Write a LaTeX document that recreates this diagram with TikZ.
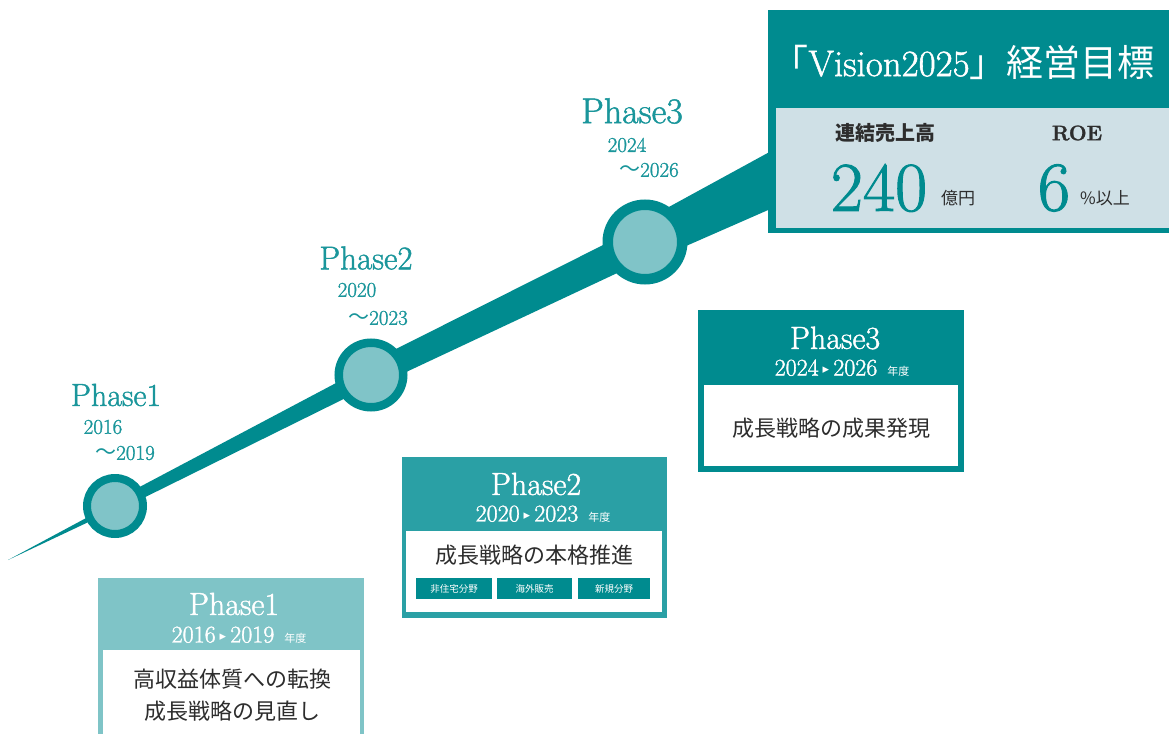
\documentclass[tikz,border=0pt]{standalone}
\usepackage{fontspec}
\setmainfont{Latin Modern Roman}[FakeBold=1.4]
\newfontfamily\jp{Noto Sans CJK JP}
\newfontfamily\djv{DejaVu Sans}
\newcommand\myfs[1]{\fontsize{#1}{#1}\selectfont}
\definecolor{tealD}{RGB}{0,139,143}
\definecolor{tealM}{RGB}{42,160,165}
\definecolor{tealL}{RGB}{127,196,199}
\definecolor{circF}{RGB}{128,196,200}
\definecolor{vbody}{RGB}{207,224,230}
\definecolor{labT}{RGB}{26,150,155}
\definecolor{txtD}{RGB}{45,45,45}
\begin{document}
\begin{tikzpicture}[x=1pt,y=-1pt,
  phl/.style={text=labT,inner sep=0,font=\myfs{#1}},
  yrl/.style={text=labT,inner sep=0,font=\myfs{21}},
  ring/.style={circle,draw=tealD,fill=circF,inner sep=0},
  hdr/.style={text=white,inner sep=0,font=\myfs{32}},
  yrh/.style={text=white,inner sep=0,font=\myfs{24}},
  body/.style={text=txtD,inner sep=0,font=\jp\myfs{22},align=center},
  tagbox/.style={fill=tealD,text=white,inner sep=0,minimum height=21pt,font=\jp\myfs{9.5}}]
\useasboundingbox (0,0) rectangle (1169,733);
\fill[white] (0,0) rectangle (1169,733);
% tapered band, one segment per phase
\fill[tealD] (8,560) -- (115,502.5) -- (115,509.5) -- cycle;
\fill[tealD] (115,500) -- (371,364.5) -- (371,385.5) -- (115,512) -- cycle;
\fill[tealD] (371,361.5) -- (645,224) -- (645,260) -- (371,388.5) -- cycle;
\fill[tealD] (645,220) -- (775,149) -- (775,207) -- (645,264) -- cycle;
% circles
\node[ring,line width=8pt,minimum size=56pt] (c1) at (115,506) {};
\node[ring,line width=8.5pt,minimum size=64.5pt] (c2) at (371,375) {};
\node[ring,line width=10.5pt,minimum size=74.5pt] (c3) at (645,242) {};
% phase labels on the line
\node[phl=32] (l1) at (116,395) {Phase1};
\node[yrl] (l1a) at (103,427) {2016};
\node[yrl] (l1b) at (125,453) {{\jp ～}2019};
\node[phl=33] (l2) at (366,258) {Phase2};
\node[yrl] (l2a) at (357,290) {2020};
\node[yrl] (l2b) at (378,318) {{\jp ～}2023};
\node[phl=36] (l3) at (632,111) {Phase3};
\node[yrl] (l3a) at (627,145) {2024};
\node[yrl] (l3b) at (649,170) {{\jp ～}2026};
% Vision box
\fill[tealD] (768,10) rectangle (1169,233);
\fill[vbody] (776,108) rectangle (1169,228);
\node[text=white,inner sep=0,font=\myfs{37}] (vt) at (963,62) {{\jp 「}Vision2025{\jp 」経営目標}};
\node[text=txtD,inner sep=0,font=\jp\bfseries\myfs{20}] (vs) at (885,133) {連結売上高};
\node[text=txtD,inner sep=0,font=\bfseries\myfs{21}] (vr) at (1077,133) {ROE};
\node[text=tealD,inner sep=0,font=\myfs{70}] (v240) at (879,188) {240};
\node[text=txtD,inner sep=0,font=\jp\myfs{17}] (vo) at (958,198) {億円};
\node[text=tealD,inner sep=0,font=\myfs{70}] (v6) at (1054,188) {6};
\node[text=txtD,inner sep=0,font=\jp\myfs{17}] (vp) at (1105,198) {\%以上};
% Phase1 box
\fill[tealL] (98,578) rectangle (364,740);
\fill[white] (103,650) rectangle (360,740);
\node[hdr] (b1h) at (234,604) {Phase1};
\node[yrh] (b1y) at (239,635) {2016\,{\djv\myfs{13}\raisebox{2pt}{▸}}\,2019\hspace{10pt}{\jp\myfs{11}年度}};
\node[body] (b1b) at (232,695) {高収益体質への転換\\[10pt]成長戦略の見直し};
% Phase2 box
\fill[tealM] (402,457) rectangle (667,618);
\fill[white] (406,531) rectangle (662,612);
\node[hdr] (b2h) at (536,484) {Phase2};
\node[yrh] (b2y) at (543,514) {2020\,{\djv\myfs{13}\raisebox{2pt}{▸}}\,2023\hspace{10pt}{\jp\myfs{11}年度}};
\node[body] (b2b) at (534,555) {成長戦略の本格推進};
\node[tagbox,minimum width=76pt] (t1) at (454,588.5) {非住宅分野};
\node[tagbox,minimum width=75pt] (t2) at (534.5,588.5) {海外販売};
\node[tagbox,minimum width=72pt] (t3) at (614,588.5) {新規分野};
% Phase3 box
\fill[tealD] (698,310) rectangle (964,472);
\fill[white] (704,385) rectangle (958,466);
\node[hdr] (b3h) at (835,338) {Phase3};
\node[yrh] (b3y) at (842,368) {2024\,{\djv\myfs{13}\raisebox{2pt}{▸}}\,2026\hspace{10pt}{\jp\myfs{11}年度}};
\node[body] (b3b) at (831,428) {成長戦略の成果発現};
\end{tikzpicture}
\end{document}
